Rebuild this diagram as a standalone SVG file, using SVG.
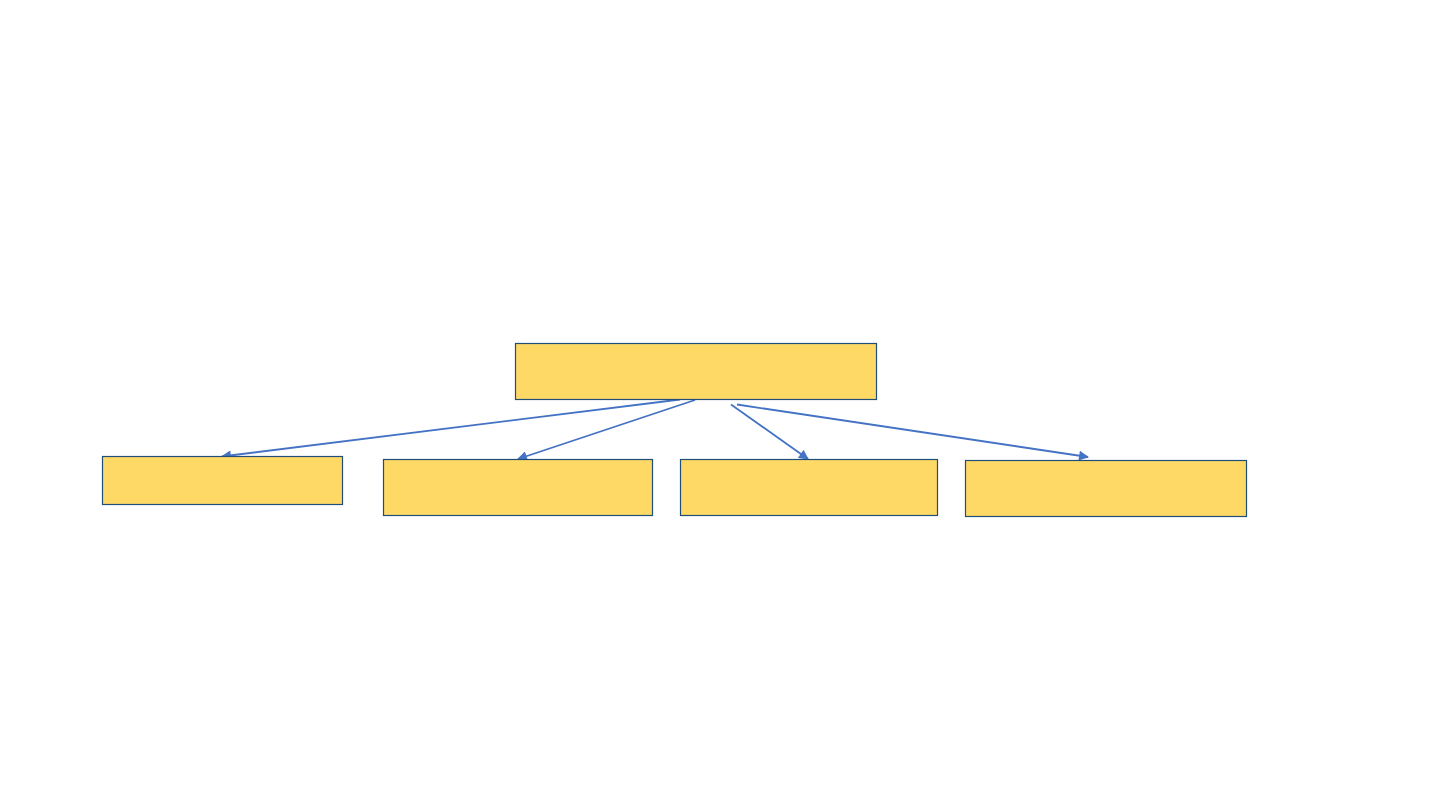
<svg xmlns="http://www.w3.org/2000/svg" width="1440" height="810" viewBox="0 0 1440 810">
<style>
.node{fill:#FFD966;stroke:#1F4E79;stroke-width:1.2}
.conn{stroke:#4472C4;stroke-width:1.8;fill:none;marker-end:url(#arr)}
</style>
<defs>
<marker id="arr" viewBox="0 0 10 10" refX="9" refY="5" markerWidth="6" markerHeight="5.5" orient="auto" markerUnits="strokeWidth">
<path d="M0,0 L10,5 L0,10 z" fill="#4472C4"/>
</marker>
</defs>
<rect width="1440" height="810" fill="#FFFFFF"/>
<g id="connectors">
<line class="conn" x1="680" y1="399.5" x2="222" y2="456.5"/>
<line class="conn" x1="695" y1="400" x2="518" y2="459"/>
<line class="conn" x1="731" y1="404.5" x2="808" y2="459"/>
<line class="conn" x1="737" y1="404.5" x2="1088" y2="457"/>
</g>
<g id="node-top"><rect class="node" x="515.5" y="343.5" width="361" height="56"/></g>
<g id="node-1"><rect class="node" x="102.5" y="456.5" width="240" height="48"/></g>
<g id="node-2"><rect class="node" x="383.5" y="459.5" width="269" height="56"/></g>
<g id="node-3"><rect class="node" x="680.5" y="459.5" width="257" height="56"/></g>
<g id="node-4"><rect class="node" x="965.5" y="460.5" width="281" height="56"/></g>
</svg>
